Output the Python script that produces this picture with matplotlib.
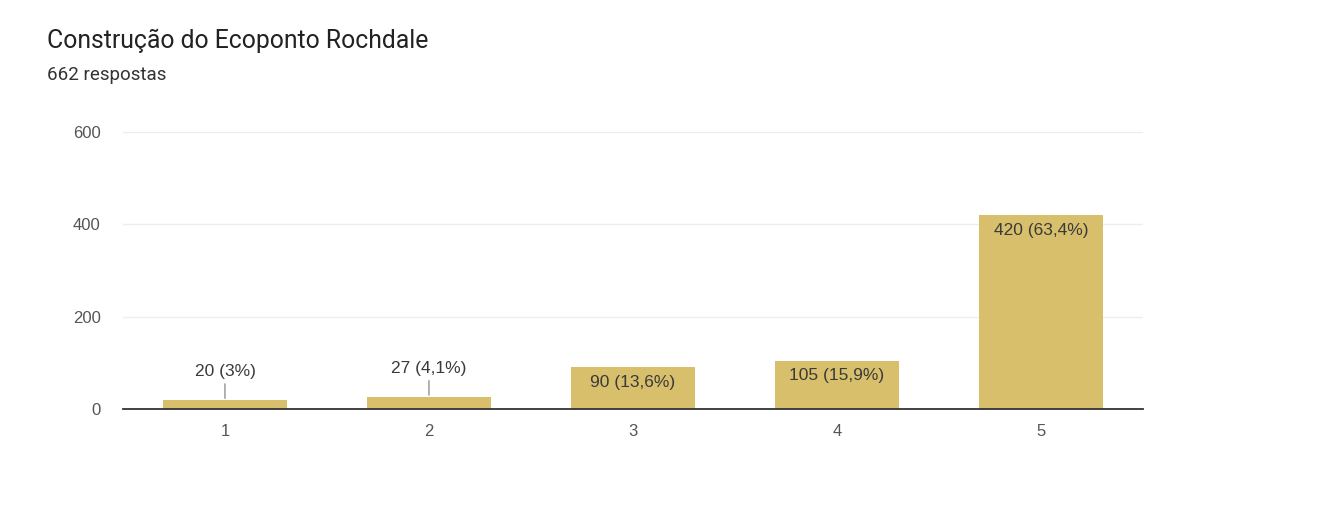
import matplotlib
matplotlib.use("Agg")
import matplotlib.pyplot as plt

# data
categories = ["1", "2", "3", "4", "5"]
counts = [20, 27, 90, 105, 420]
pct_labels = ["20 (3%)", "27 (4,1%)", "90 (13,6%)", "105 (15,9%)", "420 (63,4%)"]
yticks = [0, 200, 400, 600]

title = "Construção do Ecoponto Rochdale"
subtitle = "662 respostas"

bar_color = "#d8bf6c"
text_color = "#555555"

fig = plt.figure(figsize=(13.41, 5.19), dpi=100)
ax = fig.add_axes([0.0917, 0.2119, 0.7606, 0.5338])

xs = list(range(1, len(categories) + 1))
ax.bar(xs, counts, width=0.61, color=bar_color, zorder=2)

ax.set_xlim(0.5, 5.5)
ax.set_ylim(0, 600)
ax.set_yticks(yticks)
ax.set_xticks(xs)
ax.set_xticklabels(categories)

for s in ["top", "right", "left"]:
    ax.spines[s].set_visible(False)
ax.spines["bottom"].set_color("#333333")
ax.spines["bottom"].set_linewidth(1.3)
ax.spines["bottom"].set_zorder(3)
ax.tick_params(axis="both", length=0, labelsize=12, colors=text_color, labelfontfamily="Liberation Sans")
ax.tick_params(axis="y", pad=16)
ax.tick_params(axis="x", pad=11)
ax.grid(axis="y", color="#eeeeee", linewidth=1, zorder=0)

# value labels: small bars get a callout above, big bars get the label inside
for x, v, lab in zip(xs, counts, pct_labels):
    if v < 50:
        ax.annotate("", xy=(x, v), xytext=(0, 16), textcoords="offset pixels",
                    arrowprops=dict(arrowstyle="-", color="#777777", lw=0.8,
                                    shrinkA=0, shrinkB=1))
        ax.annotate(lab, xy=(x, v), xytext=(0, 28), textcoords="offset pixels",
                    ha="center", va="center", fontsize=12.5, color="#3a3a3a",
                    family="Liberation Sans")
    else:
        ax.annotate(lab, xy=(x, v), xytext=(0, -15), textcoords="offset pixels",
                    ha="center", va="center", fontsize=12.5, color="#3a3a3a",
                    family="Liberation Sans")

fig.text(47 / 1341, 1 - 48 / 519, title, fontsize=17.8, family="Roboto",
         color="#222222", va="baseline", ha="left")
fig.text(47 / 1341, 1 - 80 / 519, subtitle, fontsize=13.5, family="Roboto",
         color="#333333", va="baseline", ha="left")

fig.savefig("out.png", dpi=100, facecolor="white")
